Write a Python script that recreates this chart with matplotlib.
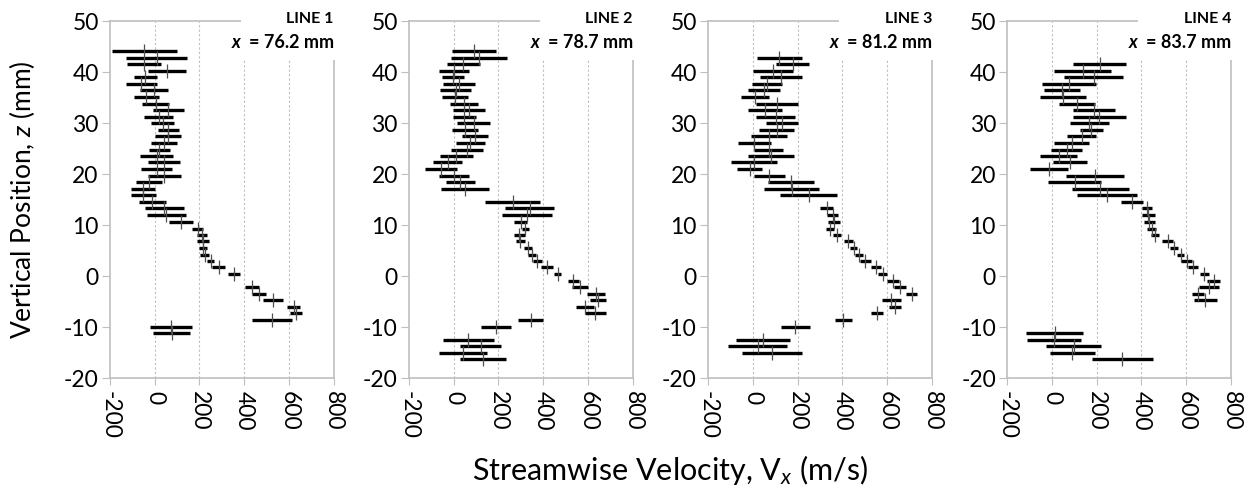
import numpy as np
import matplotlib
matplotlib.use("Agg")
import matplotlib.pyplot as plt
from matplotlib.patches import Rectangle

plt.rcParams['font.family'] = ['Lato', 'DejaVu Sans']
plt.rcParams['mathtext.fontset'] = 'custom'
plt.rcParams['mathtext.rm'] = 'Lato'
plt.rcParams['mathtext.it'] = 'Lato:italic'
plt.rcParams['axes.unicode_minus'] = False

# vertical position z (mm) and low / high ends of each velocity bar (m/s)
z1 = [44.2, 42.8, 41.6, 40.3, 39.0, 37.7, 36.4, 35.1, 33.8, 32.5, 31.2, 30.0, 28.7, 27.4, 26.1,
      24.8, 23.6, 22.3, 21.0, 19.7, 18.4, 17.1, 15.9, 14.6, 13.3, 12.0, 10.7, 9.3, 8.1, 6.8, 5.6,
      4.2, 2.9, 1.7, 0.4, -2.2, -3.5, -4.7, -6.0, -7.3, -8.6, -9.9, -11.2]
lo1 = [-190, -126, -122, -30, -93, -129, -67, -92, -56, -7, -46, -16, 13, 2, -15, -27, -64, -31,
       -62, -31, -82, -107, -105, -68, -42, -36, 64, 167, 191, 191, 197, 203, 236, 258, 329, 404,
       434, 484, 591, 604, 436, -22, -7]
hi1 = [99, 144, 28, 142, 10, 10, 59, 18, 65, 129, 83, 87, 110, 116, 101, 68, 83, 114, 79, 116,
       34, 0, 4, 49, 129, 138, 173, 218, 236, 243, 236, 244, 267, 313, 379, 464, 499, 573, 650,
       659, 615, 167, 159]

z2 = [44.2, 42.8, 41.6, 40.3, 39.0, 37.7, 36.4, 35.1, 33.8, 32.5, 31.2, 30.0, 28.7, 27.4, 26.1,
      24.8, 23.6, 22.3, 21.0, 19.7, 18.4, 17.1, 14.6, 13.3, 12.0, 10.7, 9.3, 8.1, 6.8, 5.6, 4.2,
      2.9, 1.7, 0.4, -0.9, -2.2, -3.5, -4.7, -6.0, -7.3, -8.6, -9.9, -12.5, -13.7, -15.0, -16.3]
lo2 = [-8, -11, -30, -67, -51, -48, -61, -51, -15, -3, -3, 17, -8, 38, 12, -12, -60, -93, -126,
       -66, -35, -58, 142, 231, 217, 271, 303, 268, 277, 316, 331, 352, 391, 447, 509, 526, 596,
       610, 547, 586, 286, 121, -49, 30, -67, 27]
hi2 = [189, 238, 117, 67, 45, 93, 79, 63, 108, 142, 99, 160, 108, 154, 138, 129, 85, 38, 15, 69,
       94, 157, 387, 448, 441, 327, 334, 319, 319, 349, 366, 392, 444, 480, 559, 599, 674, 680,
       628, 679, 400, 258, 181, 210, 148, 234]

z3 = [42.8, 41.6, 40.3, 39.0, 37.7, 36.4, 35.1, 33.8, 32.5, 31.2, 30.0, 28.7, 27.4, 26.1, 24.8,
      23.6, 22.3, 21.0, 19.7, 18.4, 17.1, 15.9, 13.3, 12.0, 10.7, 9.3, 8.1, 6.8, 5.6, 4.2, 2.9,
      1.7, 0.4, -0.9, -2.2, -3.5, -4.7, -6.0, -7.3, -8.6, -9.9, -12.5, -13.7, -15.0]
lo3 = [19, 104, 0, 33, -4, -22, -52, 15, -19, 16, 59, 30, -9, -67, 6, -19, -95, -71, 4, 67, 52,
       120, 301, 333, 338, 326, 359, 407, 433, 455, 479, 527, 560, 600, 632, 684, 576, 609, 530,
       367, 126, -73, -111, -47]
hi3 = [219, 252, 179, 219, 130, 120, 74, 200, 130, 188, 200, 184, 153, 82, 135, 182, 108, 42,
       144, 274, 295, 378, 360, 382, 390, 363, 393, 446, 467, 492, 526, 573, 600, 652, 683, 735,
       662, 662, 582, 443, 255, 166, 154, 222]

z4 = [41.6, 40.3, 39.0, 37.7, 36.4, 35.1, 33.8, 32.5, 31.2, 30.0, 28.7, 27.4, 26.1, 24.8, 23.6,
      22.3, 21.0, 19.7, 18.4, 17.1, 15.9, 14.6, 13.3, 12.0, 10.7, 9.3, 8.1, 6.8, 5.6, 4.2, 2.9,
      1.7, 0.4, -0.9, -2.2, -3.5, -4.7, -11.2, -12.5, -13.7, -15.0, -16.3]
lo4 = [93, 10, 56, -46, -34, -53, 33, 96, 96, 79, 124, 68, 10, -2, -52, 6, -98, 62, -15, 89, 111,
       307, 402, 402, 413, 427, 444, 492, 529, 559, 578, 607, 662, 693, 656, 625, 633, -114, -111,
       -25, -10, 179]
hi4 = [333, 264, 320, 197, 124, 153, 193, 282, 329, 255, 228, 199, 166, 135, 113, 159, 74, 324,
       219, 344, 382, 407, 447, 459, 459, 465, 479, 541, 563, 590, 627, 652, 701, 753, 748, 679,
       738, 141, 130, 219, 193, 450]

line_names = ['LINE 1', 'LINE 2', 'LINE 3', 'LINE 4']
x_pos = ['76.2', '78.7', '81.2', '83.7']

panels = [(z1, lo1, hi1), (z2, lo2, hi2), (z3, lo3, hi3), (z4, lo4, hi4)]

gray = '#bfbfbf'

fig, axes = plt.subplots(1, 4, figsize=(12.48, 4.91), dpi=100)
fig.subplots_adjust(left=0.088, right=0.9864, bottom=0.230, top=0.957, wspace=0.335)

for i, ax in enumerate(axes):
    z, lo, hi = panels[i]
    z = np.array(z)
    lo = np.array(lo, dtype=float)
    hi = np.array(hi, dtype=float)
    mid = (lo + hi) / 2
    err = (hi - lo) / 2

    ax.errorbar(mid, z, xerr=err, fmt='none', ecolor='black', elinewidth=2.4, capsize=0, zorder=3)
    ax.plot(mid, z, ls='none', marker='|', ms=10, mew=0.9, color='#505050', zorder=4)

    ax.set_xlim(-200, 800)
    ax.set_ylim(-20, 50)
    ax.set_xticks([-200, 0, 200, 400, 600, 800])
    ax.set_yticks(range(-20, 51, 10))
    ax.tick_params(axis='x', rotation=-90, labelsize=16.5, length=5, color=gray, pad=4)
    ax.tick_params(axis='y', labelsize=16.5, length=6, color=gray, pad=2)
    for s in ax.spines.values():
        s.set_color(gray)
        s.set_linewidth(1.2)
    for xv in [0, 200, 400, 600]:
        ax.axvline(xv, color=gray, lw=0.8, ls=(0, (2, 2)), zorder=1)

    # label box in the upper right corner
    ax.add_patch(Rectangle((0.585, 0.89), 0.43, 0.16, transform=ax.transAxes,
                           facecolor='white', edgecolor='none', clip_on=False, zorder=5))
    ax.text(1.0, 1.005, line_names[i], transform=ax.transAxes, ha='right', va='center',
            fontsize=11.5, fontweight='bold', zorder=6, clip_on=False)
    t = ax.text(1.0, 0.941, '= ' + x_pos[i] + ' mm', transform=ax.transAxes, ha='right',
                va='center', fontsize=13, fontweight='bold', zorder=6, clip_on=False)
    ax.annotate('x', xy=(0, 0.5), xycoords=t, xytext=(-6, 0), textcoords='offset points',
                ha='right', va='center', fontsize=13, fontweight='bold', fontstyle='italic',
                zorder=6, annotation_clip=False)

fig.text(0.018, 0.594, 'Vertical Position, $z$ (mm)', rotation=90, ha='center', va='center',
         fontsize=19)
fig.text(0.537, 0.043, 'Streamwise Velocity, V$_x$ (m/s)', ha='center', va='center', fontsize=22)

fig.savefig('out.png', dpi=100)
